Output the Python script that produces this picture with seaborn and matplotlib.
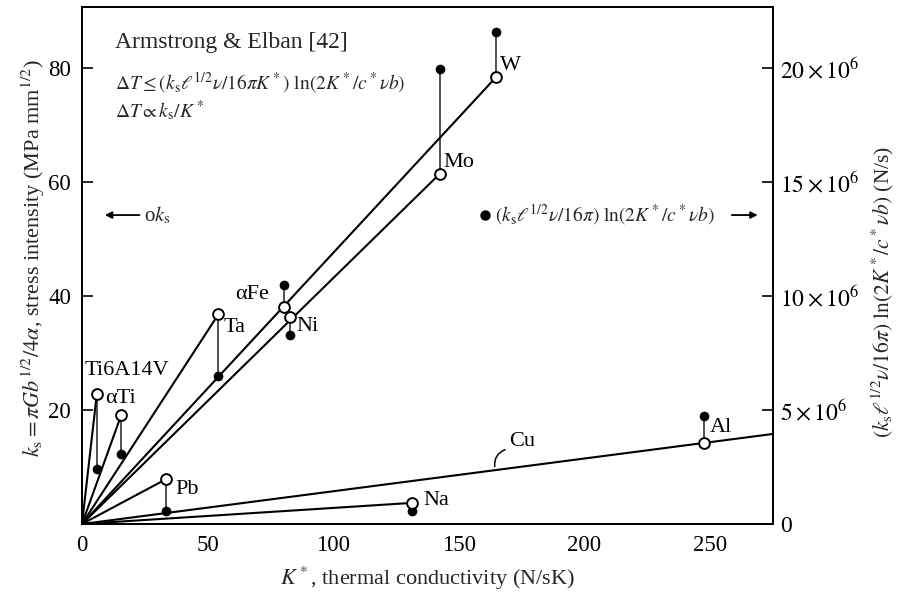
import numpy as np
import pandas as pd
import matplotlib
matplotlib.use("Agg")
import matplotlib.pyplot as plt
import seaborn as sns

# ---------------- data ----------------
materials = ["Ti6A14V", "αTi", "Pb", "Ta", "αFe", "Ni", "Na", "Mo", "W", "Al"]
K_star = [5.9, 15.6, 33.6, 54.3, 80.3, 82.7, 131.2, 142.3, 164.8, 247.6]       # N/sK
k_s = [22.8, 19.1, 7.9, 36.8, 38.1, 36.4, 3.7, 61.4, 78.4, 14.2]               # MPa mm^1/2
ln_term_1e6 = [2.40, 3.08, 0.55, 6.50, 10.48, 8.28, 0.58, 19.95, 21.58, 4.73]  # x10^6 N/s

# straight lines from origin (end points)
line_names = ["Ti6A14V", "αTi", "Ta", "αFe-W", "Ni-Mo", "Pb", "Na", "Cu"]
line_end_K = [5.9, 15.6, 54.3, 164.8, 142.3, 33.6, 131.2, 275.0]
line_end_ks = [22.8, 19.1, 36.8, 78.4, 61.4, 7.9, 3.7, 15.8]

x_ticks = [0, 50, 100, 150, 200, 250]
y_ticks = [20, 40, 60, 80]
right_ticks_1e6 = [0, 5, 10, 15, 20]
right_tick_labels = ["0", r"$5\times10^{6}$", r"$10\times10^{6}$",
                     r"$15\times10^{6}$", r"$20\times10^{6}$"]

RIGHT_PER_LEFT = 0.25e6   # right-axis units per left-axis unit
XMAX, YMAX = 275, 90.7

# label positions (data coords of left/center of text)
label_pos = {
    "Ti6A14V": (1.2, 27.0), "αTi": (9.2, 22.1), "Ta": (56.4, 34.4),
    "αFe": (61.0, 40.2), "Ni": (85.2, 34.6), "Pb": (37.2, 6.0),
    "Mo": (144.0, 63.5), "W": (166.4, 80.5), "Na": (136.0, 4.2),
    "Al": (250.0, 17.0),
}

# ---------------- style ----------------
sns.set_theme(style="white")
plt.rcParams["font.family"] = ["Liberation Serif", "DejaVu Serif"]
plt.rcParams["mathtext.fontset"] = "stix"
plt.rcParams["axes.edgecolor"] = "black"
plt.rcParams["axes.linewidth"] = 1.4

fig = plt.figure(figsize=(8.99, 5.92), dpi=100)
W_px, H_px = 899, 592
ax = fig.add_axes([82 / W_px, 1 - 524 / H_px, (773 - 82) / W_px, (524 - 7) / H_px])
ax2 = ax.twinx()
ax.set_zorder(ax2.get_zorder() + 1)
ax.patch.set_visible(False)

ax.set_xlim(0, XMAX)
ax.set_ylim(0, YMAX)
ax2.set_ylim(0, YMAX * RIGHT_PER_LEFT)

# lines from origin
rows = []
for n, xe, ye in zip(line_names, line_end_K, line_end_ks):
    rows.append((n, 0.0, 0.0))
    rows.append((n, xe, ye))
lines_df = pd.DataFrame(rows, columns=["line", "K", "ks"])
sns.lineplot(data=lines_df, x="K", y="ks", units="line", estimator=None,
             color="black", lw=1.5, ax=ax, legend=False, sort=False)

# filled points and connectors on right axis
right_vals = np.array(ln_term_1e6) * 1e6
ax2.vlines(K_star, np.array(k_s) * RIGHT_PER_LEFT, right_vals, color="#222222", lw=1.1)
sns.scatterplot(x=K_star, y=right_vals, ax=ax2, color="black", s=42,
                edgecolor="black", linewidth=0.5, zorder=5, legend=False)

# open points on left axis
sns.scatterplot(x=K_star, y=k_s, ax=ax, facecolor="white", edgecolor="black",
                s=60, linewidth=1.4, zorder=5, legend=False)

# ticks
ax.set_xticks(x_ticks)
ax.set_yticks(y_ticks)
ax.tick_params(axis="both", direction="in", length=8, width=1.2, labelsize=16.5,
               colors="black", top=False, right=False)
ax.tick_params(axis="x", pad=8)
ax.tick_params(axis="y", pad=8)
ax2.set_yticks(np.array(right_ticks_1e6) * 1e6)
ax2.set_yticklabels(right_tick_labels)
ax2.tick_params(axis="y", direction="in", length=8, width=1.2, labelsize=17,
                colors="black", pad=5)
for a in (ax, ax2):
    for s in a.spines.values():
        s.set_color("black")
        s.set_linewidth(1.4)
ax.grid(False)
ax2.grid(False)

# axis labels
ax.set_xlabel(r"$K^*$, thermal conductivity (N/sK)", fontsize=16, labelpad=6)
ax.set_ylabel("")
ax2.set_ylabel("")
fig.text(33 / W_px, 1 - 258 / H_px,
         r"$k_{\rm s} = \pi G b^{1/2}/4\alpha$, stress intensity (MPa mm$^{1/2}$)",
         fontsize=16, rotation=90, ha="center", va="center")
fig.text(883 / W_px, 1 - 292 / H_px,
         r"$(k_{\rm s}\ell^{1/2}\nu/16\pi)\ \ln(2K^*/c^*\nu b)$ (N/s)",
         fontsize=15.5, rotation=90, ha="center", va="center")

# material labels
for name, (lx, ly) in label_pos.items():
    ax.text(lx, ly, name, fontsize=16, ha="left", va="center", color="black", zorder=6)
ax.text(170, 14.4, "Cu", fontsize=16, ha="left", va="center", color="black")
ax.annotate("", xy=(164.4, 9.6), xytext=(169.4, 13.2),
            arrowprops=dict(arrowstyle="-", connectionstyle="arc3,rad=0.45",
                            lw=1.1, color="black"))

# title block
ax.text(13.2, 84.4, "Armstrong & Elban [42]", fontsize=17, ha="left", va="center")
ax.text(13.2, 77.5, r"$\Delta T \leq (k_{\rm s}\ell^{1/2}\nu/16\pi K^*)\ \ln(2K^*/c^*\nu b)$",
        fontsize=14, ha="left", va="center")
ax.text(13.2, 72.6, r"$\Delta T \propto k_{\rm s}/K^*$", fontsize=14, ha="left", va="center")

# legend-like arrows
ax.annotate("", xy=(8.0, 54.2), xytext=(24.0, 54.2),
            arrowprops=dict(arrowstyle="-|>", lw=1.3, color="black", mutation_scale=10))
ax.text(24.8, 54.2, r"o$k_{\rm s}$", fontsize=15, ha="left", va="center")
ax.scatter([160.4], [54.2], s=42, color="black", zorder=6)
ax.text(164.2, 54.2, r"$(k_{\rm s}\ell^{1/2}\nu/16\pi)\ \ln(2K^*/c^*\nu b)$",
        fontsize=14, ha="left", va="center")
ax.annotate("", xy=(270.0, 54.2), xytext=(257.5, 54.2),
            arrowprops=dict(arrowstyle="-|>", lw=1.3, color="black", mutation_scale=10))

fig.savefig("out.png", dpi=100, facecolor="white")
